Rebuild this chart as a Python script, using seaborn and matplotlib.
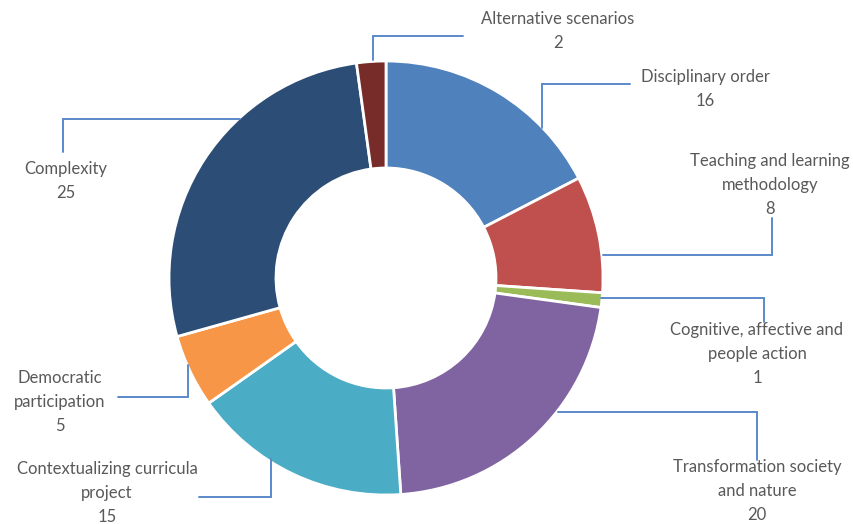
import matplotlib.pyplot as plt
import seaborn as sns

# data, clockwise from 12 o'clock
categories = [
    "Disciplinary order",
    "Teaching and learning\nmethodology",
    "Cognitive, affective and\npeople action",
    "Transformation society\nand nature",
    "Contextualizing curricula\nproject",
    "Democratic\nparticipation",
    "Complexity",
    "Alternative scenarios",
]
counts = [16, 8, 1, 20, 15, 5, 25, 2]
colors = ["#4F81BD", "#C0504D", "#9BBB59", "#8064A2",
          "#4BACC6", "#F79646", "#2C4D75", "#772C2A"]

# label text positions and leader polylines (pixel layout)
label_pos = [(705, 89), (770, 185), (757, 354), (757, 491),
             (107, 493), (60, 402), (66, 181), (558, 31)]
leaders = [
    [(542, 128), (542, 84), (630, 84)],
    [(603, 255), (772, 255), (772, 218)],
    [(601, 298), (764, 298), (764, 322)],
    [(558, 412), (757, 412), (757, 460)],
    [(271, 459), (271, 497), (199, 497)],
    [(188, 365), (188, 397), (118, 397)],
    [(240, 119), (63, 119), (63, 152)],
    [(373, 60), (373, 36), (463, 36)],
]

sns.set_theme(style="white")
plt.rcParams["font.family"] = ["Lato", "DejaVu Sans"]

fig = plt.figure(figsize=(8.54, 5.24), dpi=100)
ax = fig.add_axes([0, 0, 1, 1])

ax.pie(counts, colors=sns.color_palette(colors), startangle=-90, counterclock=True,
       radius=217, center=(386, 278),
       wedgeprops=dict(width=107, edgecolor="white", linewidth=2))

ax.set_xlim(0, 854)
ax.set_ylim(524, 0)
ax.set_aspect("auto")
ax.axis("off")

for cat, n, (x, y), pts in zip(categories, counts, label_pos, leaders):
    xs, ys = zip(*pts)
    ax.plot(xs, ys, color="#5B8ACB", lw=1.4, solid_joinstyle="miter")
    ax.text(x, y, f"{cat}\n{n}", ha="center", va="center", fontsize=12,
            color="#595959", linespacing=1.62)

fig.savefig("out.png", dpi=100)
